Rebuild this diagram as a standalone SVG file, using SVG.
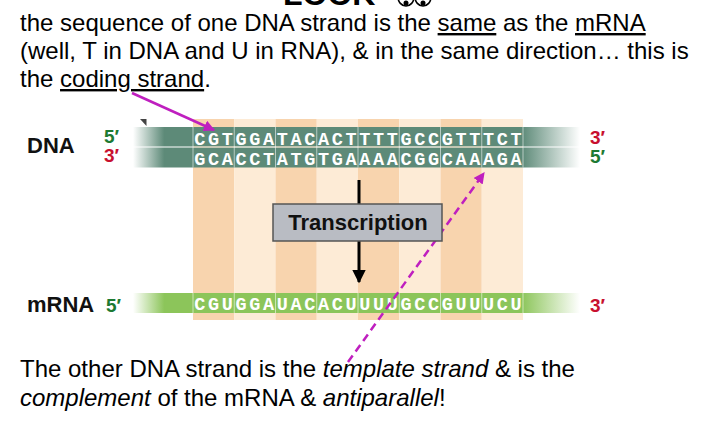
<svg xmlns="http://www.w3.org/2000/svg" width="719" height="435" viewBox="0 0 719 435">
<defs>
<style>
.body{font-family:"Liberation Sans",Arial,sans-serif;font-size:24px;fill:#000}
.lbl{font-family:"Liberation Sans",Arial,sans-serif;font-weight:bold;font-size:22px;fill:#111}
.end{font-family:"Liberation Sans",Arial,sans-serif;font-weight:bold;font-size:19px}
.g{fill:#1d7a32}
.r{fill:#c8102e}
.seq{font-family:"Liberation Mono","Courier New",monospace;font-weight:bold;font-size:18.5px;fill:#fff;text-anchor:middle}
.sd{fill:#f8d4ae}
.sl{fill:#fdebd6}
.div{stroke:#fff;stroke-opacity:0.55;stroke-width:1}
.mag{stroke:#bf1fbf;stroke-width:2.5;fill:none}
</style>
<linearGradient id="fadeDNA" gradientUnits="userSpaceOnUse" x1="133" y1="0" x2="580" y2="0">
<stop offset="0" stop-color="#5d8a78" stop-opacity="0"/>
<stop offset="0.07" stop-color="#5d8a78" stop-opacity="1"/>
<stop offset="0.87" stop-color="#5d8a78" stop-opacity="1"/>
<stop offset="1" stop-color="#5d8a78" stop-opacity="0"/>
</linearGradient>
<linearGradient id="fadeRNA" gradientUnits="userSpaceOnUse" x1="133" y1="0" x2="580" y2="0">
<stop offset="0" stop-color="#8cc55a" stop-opacity="0"/>
<stop offset="0.07" stop-color="#8cc55a" stop-opacity="1"/>
<stop offset="0.87" stop-color="#8cc55a" stop-opacity="1"/>
<stop offset="1" stop-color="#8cc55a" stop-opacity="0"/>
</linearGradient>
<marker id="magHead" viewBox="0 0 10 10" refX="9" refY="5" markerWidth="4.5" markerHeight="4.5" orient="auto" markerUnits="strokeWidth">
<path d="M0,0 L10,5 L0,10 z" fill="#bf1fbf"/>
</marker>
<marker id="blkHead" viewBox="0 0 10 10" refX="9" refY="5" markerWidth="4.5" markerHeight="5" orient="auto" markerUnits="strokeWidth">
<path d="M0,0 L10,5 L0,10 z" fill="#000"/>
</marker>
</defs>

<g id="header">
<text x="283" y="5" style="font-family:'Liberation Sans',Arial,sans-serif;font-size:32px;font-weight:bold">LOOK</text>
<ellipse cx="406" cy="-3" rx="8" ry="9" fill="none" stroke="#000" stroke-width="1.6"/>
<ellipse cx="423" cy="-3" rx="8" ry="9" fill="none" stroke="#000" stroke-width="1.6"/>
<circle cx="406" cy="3" r="2.5" fill="#000"/>
<circle cx="423" cy="3" r="2.5" fill="#000"/>
</g>

<g id="top-text" class="body">
<text x="20" y="31" class="body">the sequence of one DNA strand is the <tspan text-decoration="underline">same</tspan> as the <tspan text-decoration="underline">mRNA</tspan></text>
<text x="20" y="59" class="body">(well, T in DNA and U in RNA), &amp; in the same direction… this is</text>
<text x="20" y="87" class="body">the <tspan text-decoration="underline">coding strand</tspan>.</text>
</g>

<g id="codon-stripes">
<rect class="sd" x="193" y="119" width="41.25" height="201"/>
<rect class="sl" x="234.25" y="119" width="41.25" height="201"/>
<rect class="sd" x="275.5" y="119" width="41.25" height="201"/>
<rect class="sl" x="316.75" y="119" width="41.25" height="201"/>
<rect class="sd" x="358" y="119" width="41.25" height="201"/>
<rect class="sl" x="399.25" y="119" width="41.25" height="201"/>
<rect class="sd" x="440.5" y="119" width="41.25" height="201"/>
<rect class="sl" x="481.75" y="119" width="41.25" height="201"/>
</g>

<g id="dna">
<polygon points="140,119 146.5,119 146.5,126" fill="#444"/>
<rect x="133" y="127" width="447" height="19.5" fill="url(#fadeDNA)"/>
<rect x="133" y="147.5" width="447" height="20" fill="url(#fadeDNA)"/>
<line x1="193" y1="147" x2="523" y2="147" stroke="#fff" stroke-opacity="0.6"/>
<g class="div">
<line x1="193" y1="127" x2="193" y2="167.5"/><line x1="234.25" y1="127" x2="234.25" y2="167.5"/>
<line x1="275.5" y1="127" x2="275.5" y2="167.5"/><line x1="316.75" y1="127" x2="316.75" y2="167.5"/>
<line x1="358" y1="127" x2="358" y2="167.5"/><line x1="399.25" y1="127" x2="399.25" y2="167.5"/>
<line x1="440.5" y1="127" x2="440.5" y2="167.5"/><line x1="481.75" y1="127" x2="481.75" y2="167.5"/>
<line x1="523" y1="127" x2="523" y2="167.5"/>
</g>
<text class="seq" y="144.5" x="199.9 213.6 227.4 241.1 254.9 268.6 282.4 296.1 309.9 323.6 337.4 351.1 364.9 378.6 392.4 406.1 419.9 433.6 447.4 461.1 474.9 488.6 502.4 516.1">CGTGGATACACTTTTGCCGTTTCT</text>
<text class="seq" y="164.5" x="199.9 213.6 227.4 241.1 254.9 268.6 282.4 296.1 309.9 323.6 337.4 351.1 364.9 378.6 392.4 406.1 419.9 433.6 447.4 461.1 474.9 488.6 502.4 516.1">GCACCTATGTGAAAACGGCAAAGA</text>
<text class="lbl" x="27" y="153">DNA</text>
<text class="end g" x="104" y="143">5′</text>
<text class="end r" x="104" y="162">3′</text>
<text class="end r" x="590" y="144">3′</text>
<text class="end g" x="590" y="163">5′</text>
</g>

<g id="mrna">
<rect x="133" y="293" width="447" height="20" fill="url(#fadeRNA)"/>
<g class="div">
<line x1="193" y1="293" x2="193" y2="313"/><line x1="234.25" y1="293" x2="234.25" y2="313"/>
<line x1="275.5" y1="293" x2="275.5" y2="313"/><line x1="316.75" y1="293" x2="316.75" y2="313"/>
<line x1="358" y1="293" x2="358" y2="313"/><line x1="399.25" y1="293" x2="399.25" y2="313"/>
<line x1="440.5" y1="293" x2="440.5" y2="313"/><line x1="481.75" y1="293" x2="481.75" y2="313"/>
<line x1="523" y1="293" x2="523" y2="313"/>
</g>
<text class="seq" y="309.5" x="199.9 213.6 227.4 241.1 254.9 268.6 282.4 296.1 309.9 323.6 337.4 351.1 364.9 378.6 392.4 406.1 419.9 433.6 447.4 461.1 474.9 488.6 502.4 516.1">CGUGGAUACACUUUUGCCGUUUCU</text>
<text class="lbl" x="27" y="312">mRNA</text>
<text class="end g" x="106" y="312">5′</text>
<text class="end r" x="590" y="312">3′</text>
</g>

<g id="connectors">
<line x1="359" y1="180" x2="359" y2="282" stroke="#000" stroke-width="3" marker-end="url(#blkHead)"/>
<line class="mag" x1="132" y1="93" x2="214" y2="130" marker-end="url(#magHead)"/>
<line class="mag" x1="348" y1="362" x2="484" y2="173" stroke-dasharray="8 5" marker-end="url(#magHead)"/>
</g>

<g id="transcription">
<rect x="273" y="204" width="169" height="37" fill="#b9bcc3" stroke="#555" stroke-width="1.5"/>
<text x="358" y="230" text-anchor="middle" class="lbl">Transcription</text>
</g>

<g id="bottom-text">
<text x="20" y="377" class="body">The other DNA strand is the <tspan font-style="italic">template strand</tspan> &amp; is the</text>
<text x="20" y="406" class="body"><tspan font-style="italic">complement</tspan> of the mRNA &amp; <tspan font-style="italic">antiparallel</tspan>!</text>
</g>
</svg>
